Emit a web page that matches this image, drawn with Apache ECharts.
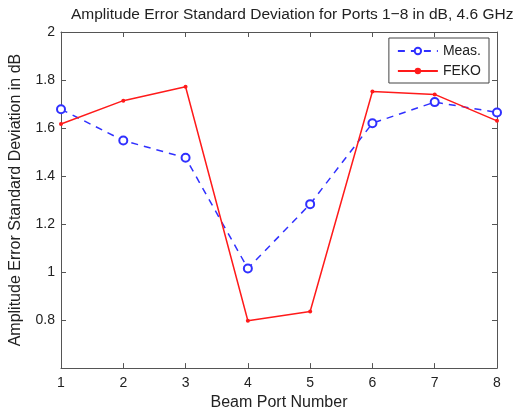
<!DOCTYPE html>
<html>
<head>
<meta charset="utf-8">
<script src="https://cdn.jsdelivr.net/npm/echarts@6/dist/echarts.min.js"></script>
<style>html,body{margin:0;padding:0;background:#fff;}#c{width:531px;height:416px;}</style>
</head>
<body>
<div id="c"></div>
<script>
const ports = [1, 2, 3, 4, 5, 6, 7, 8];
const meas = [1.678, 1.548, 1.476, 1.015, 1.283, 1.620, 1.708, 1.665];
const feko = [1.617, 1.714, 1.772, 0.797, 0.836, 1.752, 1.740, 1.630];
const yTicks = [0.6, 0.8, 1, 1.2, 1.4, 1.6, 1.8, 2];

const chart = echarts.init(document.getElementById('c'), null, {renderer: 'canvas'});
const font = 'Liberation Sans, Arial, sans-serif';
const axisCommon = {
  axisLine: {show: true, onZero: false, lineStyle: {color: '#555', width: 1}},
  axisTick: {show: true, inside: true, length: 5, lineStyle: {color: '#555'}},
  splitLine: {show: false}
};
chart.setOption({
  animation: false,
  backgroundColor: '#fff',
  title: {
    text: 'Amplitude Error Standard Deviation for Ports 1\u22128 in dB, 4.6 GHz',
    left: 66, top: 2,
    textStyle: {fontFamily: font, fontSize: 15.5, fontWeight: 'normal', color: '#222'}
  },
  grid: {left: 59, right: 34, top: 32, bottom: 41},
  legend: {
    orient: 'vertical', right: 42, top: 38,
    backgroundColor: '#fff', borderColor: '#444', borderWidth: 1,
    padding: [6, 8, 5, 8], itemGap: 6, itemWidth: 40, itemHeight: 8,
    textStyle: {fontFamily: font, fontSize: 14, color: '#222'},
    data: ['Meas.', 'FEKO']
  },
  xAxis: [
    Object.assign({
      type: 'value', min: 1, max: 8, interval: 1,
      name: 'Beam Port Number', nameLocation: 'middle', nameGap: 22,
      nameTextStyle: {fontFamily: font, fontSize: 16, color: '#222'},
      axisLabel: {fontFamily: font, fontSize: 14, color: '#222', margin: 8,
        formatter: v => String(ports[v - 1] !== undefined ? ports[v - 1] : v)}
    }, axisCommon),
    Object.assign({
      type: 'value', min: 1, max: 8, interval: 1, position: 'top',
      axisLabel: {show: false}
    }, axisCommon)
  ],
  yAxis: [
    Object.assign({
      type: 'value', min: 0.6, max: 2, interval: 0.2,
      name: 'Amplitude Error Standard Deviation in dB', nameLocation: 'middle', nameGap: 37,
      nameTextStyle: {fontFamily: font, fontSize: 16, color: '#222'},
      axisLabel: {fontFamily: font, fontSize: 14, color: '#222', margin: 6,
        formatter: v => (Math.abs(v - 0.6) < 1e-6 ? '' : String(+v.toFixed(1)))}
    }, axisCommon),
    Object.assign({
      type: 'value', min: 0.6, max: 2, interval: 0.2, position: 'right',
      axisLabel: {show: false}
    }, axisCommon)
  ],
  series: [
    {
      name: 'Meas.', type: 'line',
      data: ports.map((p, i) => [p, meas[i]]),
      symbol: 'emptyCircle', symbolSize: 8,
      lineStyle: {color: '#3030ff', width: 1.5, type: [7, 6]},
      itemStyle: {color: '#3030ff', borderWidth: 1.5},
      z: 2
    },
    {
      name: 'FEKO', type: 'line',
      data: ports.map((p, i) => [p, feko[i]]),
      symbol: 'circle', symbolSize: 4,
      lineStyle: {color: '#ff1a1a', width: 1.5},
      itemStyle: {color: '#ff1a1a'},
      z: 3
    }
  ]
});
</script>
</body>
</html>
